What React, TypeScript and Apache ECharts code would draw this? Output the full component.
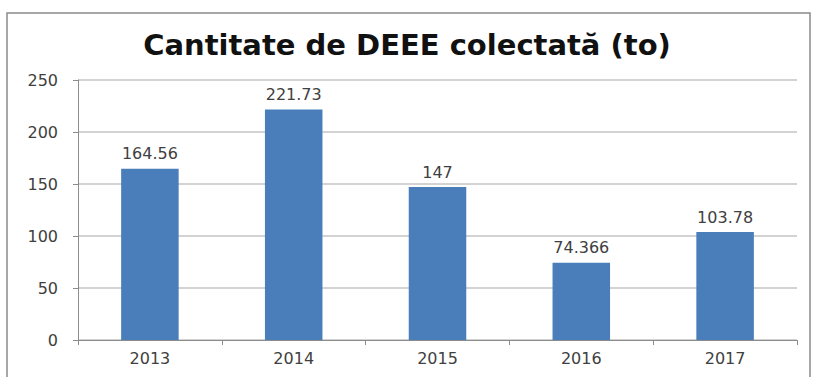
import React, { useEffect, useRef } from "react";
import * as echarts from "echarts";

const categories = ["2013", "2014", "2015", "2016", "2017"];
const values = [164.56, 221.73, 147, 74.366, 103.78];
const titleText = "Cantitate de DEEE colectată (to)";

export default function App() {
  const ref = useRef<HTMLDivElement>(null);
  useEffect(() => {
    if (!ref.current) return;
    const chart = echarts.init(ref.current, null, { renderer: "svg" });
    chart.setOption({
      animation: false,
      backgroundColor: "#ffffff",
      title: {
        text: titleText,
        left: "center",
        top: 25,
        textStyle: {
          fontFamily: "DejaVu Sans",
          fontWeight: "bold",
          fontSize: 29,
          color: "#111111",
        },
      },
      graphic: [
        {
          type: "rect",
          shape: { x: 7, y: 13, width: 803, height: 380 },
          style: { fill: "none", stroke: "#8a8a8a", lineWidth: 1.5 },
          silent: true,
        },
      ],
      grid: { left: 78, right: 17, top: 80, bottom: 37 },
      xAxis: {
        type: "category",
        data: categories,
        axisLine: { lineStyle: { color: "#8c8c8c", width: 1 } },
        axisTick: { show: true, alignWithLabel: false, length: 5, lineStyle: { color: "#8c8c8c" } },
        axisLabel: {
          color: "#404040",
          fontFamily: "DejaVu Sans",
          fontSize: 16,
          margin: 10,
        },
      },
      yAxis: {
        type: "value",
        min: 0,
        max: 250,
        interval: 50,
        axisLine: { show: true, lineStyle: { color: "#8c8c8c", width: 1 } },
        axisTick: { show: true, length: 5, lineStyle: { color: "#8c8c8c" } },
        splitLine: { lineStyle: { color: "#c4c4c4", width: 1.5 } },
        axisLabel: {
          color: "#404040",
          fontFamily: "DejaVu Sans",
          fontSize: 16,
          margin: 20,
        },
      },
      series: [
        {
          type: "bar",
          data: values,
          barCategoryGap: "60%",
          itemStyle: { color: "#4a7ebb" },
          label: {
            show: true,
            position: "top",
            distance: 7,
            color: "#404040",
            fontFamily: "DejaVu Sans",
            fontSize: 16,
            formatter: (p: any) => String(p.value),
          },
        },
      ],
    });
    return () => chart.dispose();
  }, []);
  return (
    <div
      ref={ref}
      style={{ position: "fixed", left: 0, top: 0, width: 814, height: 377 }}
    />
  );
}
